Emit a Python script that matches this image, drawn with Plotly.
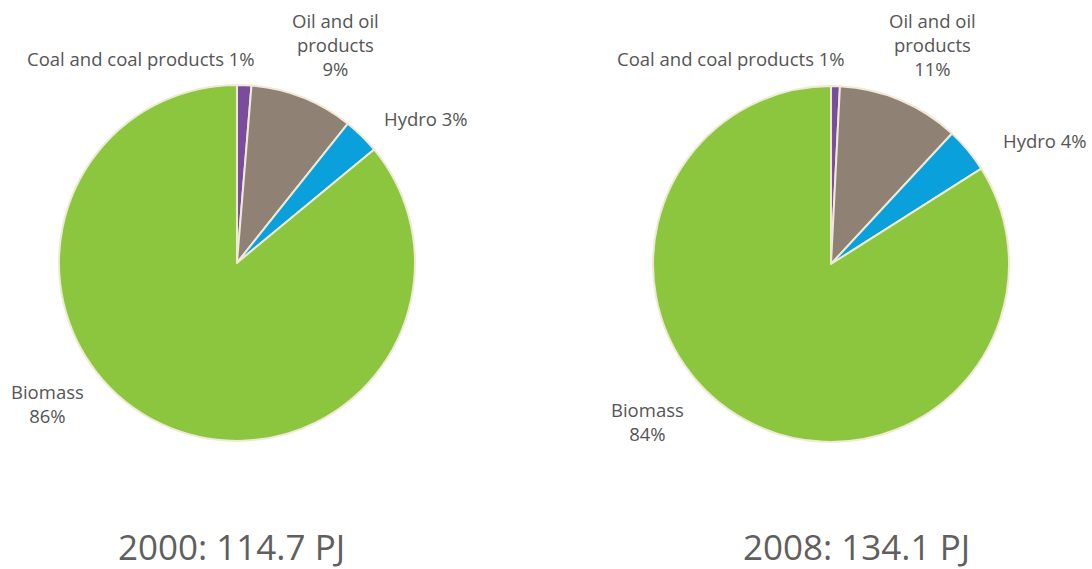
import plotly.graph_objects as go

# Datos (porcentajes)
fuentes = ["Coal and coal products", "Oil and oil products", "Hydro", "Biomass"]
valores_2000 = [1.3, 9.4, 3.3, 86.0]
valores_2008 = [0.8, 11.1, 4.1, 84.0]
etiquetas_2000 = ["Coal and coal products 1%", "Oil and oil<br>products<br>9%", "Hydro 3%", "Biomass<br>86%"]
etiquetas_2008 = ["Coal and coal products 1%", "Oil and oil<br>products<br>11%", "Hydro 4%", "Biomass<br>84%"]
titulos = ["2000: 114.7 PJ", "2008: 134.1 PJ"]

colores = ["#7a4c9c", "#8f8173", "#0aa0dc", "#8cc63f"]
borde = "#efe9d6"
gris = "#555555"
fuente = "Open Sans"

fig = go.Figure()

fig.add_trace(go.Pie(
    labels=fuentes, values=valores_2000, sort=False, direction="clockwise",
    marker=dict(colors=colores, line=dict(color=borde, width=2)),
    textinfo="none", hoverinfo="label+percent",
    domain=dict(x=[0.054, 0.380], y=[0.225, 0.851]), showlegend=False
))
fig.add_trace(go.Pie(
    labels=fuentes, values=valores_2008, sort=False, direction="clockwise",
    marker=dict(colors=colores, line=dict(color=borde, width=2)),
    textinfo="none", hoverinfo="label+percent",
    domain=dict(x=[0.598, 0.924], y=[0.223, 0.849]), showlegend=False
))

# Posiciones de las etiquetas (px de la imagen)
pos_2000 = [(141, 58), (335, 44), (426, 118), (47, 403)]
pos_2008 = [(731, 58), (932, 44), (1045, 140), (647, 421)]

W, H = 1092, 569
for etiquetas, posiciones in [(etiquetas_2000, pos_2000), (etiquetas_2008, pos_2008)]:
    for txt, (px, py) in zip(etiquetas, posiciones):
        fig.add_annotation(
            x=px / W, y=1 - py / H, xref="paper", yref="paper",
            text=txt, showarrow=False, xanchor="center", yanchor="middle",
            font=dict(family=fuente, size=18.5, color=gris)
        )

for txt, px in zip(titulos, [231, 856]):
    fig.add_annotation(
        x=px / W, y=1 - 546 / H, xref="paper", yref="paper",
        text=txt, showarrow=False, xanchor="center", yanchor="middle",
        font=dict(family=fuente, size=35, color="#5f5f5f")
    )

fig.update_layout(
    width=W, height=H, margin=dict(l=0, r=0, t=0, b=0),
    paper_bgcolor="white", plot_bgcolor="white"
)

# quitar el margen del body para que el gráfico ocupe la ventana completa
fig.write_html("out.html", config={"displayModeBar": False},
               post_script="document.body.style.margin='0';document.body.style.overflow='hidden';")
